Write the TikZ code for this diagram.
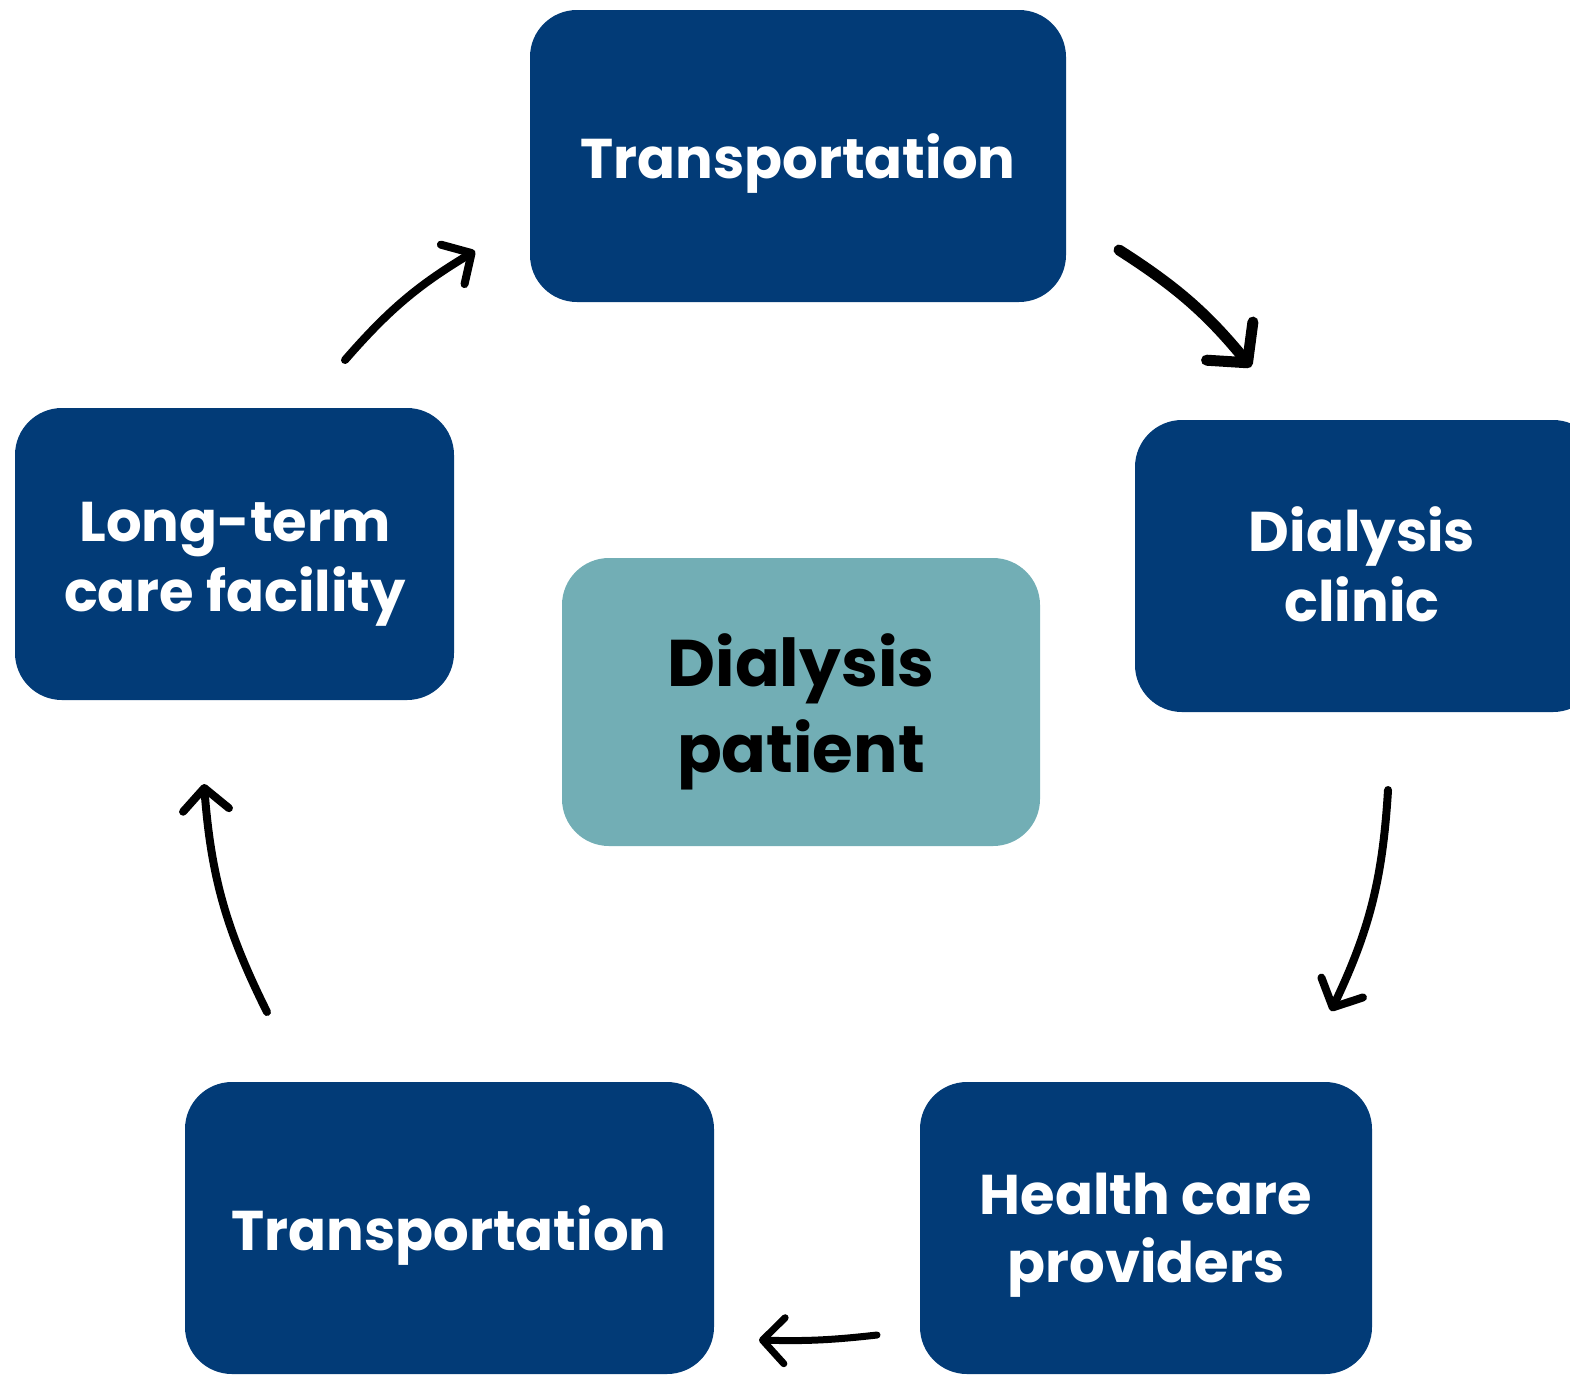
\documentclass[tikz,border=0pt]{standalone}
\usepackage{fontspec}
\setmainfont{Poppins}
\usetikzlibrary{arrows.meta}
\definecolor{navy}{HTML}{023B77}
\definecolor{teal2}{HTML}{72AEB5}
\tikzset{
  box/.style={fill=navy, draw=none, rounded corners=47pt},
  cbox/.style={fill=teal2, draw=none, rounded corners=47pt},
  wtxt/.style={text=white, anchor=base, inner sep=0pt, font=\fontsize{56}{56}\selectfont\bfseries},
  btxt/.style={text=black, anchor=base, inner sep=0pt, font=\fontsize{66}{66}\selectfont\bfseries},
  arr/.style={line width=8pt, line cap=round, -{Straight Barb[length=22pt,width=46pt,line cap=round,line join=round]}},
}
\begin{document}
\begin{tikzpicture}[x=1pt,y=-1pt]
\useasboundingbox (0,0) rectangle (1570,1374);
\clip (0,0) rectangle (1570,1374);
% boxes
\fill[box] (530,10) rectangle (1066,302);
\fill[box] (1135,420) rectangle (1600,712);
\fill[box] (15,408) rectangle (454,700);
\fill[cbox] (562,558) rectangle (1040,846);
\fill[box] (185,1082) rectangle (714,1374);
\fill[box] (920,1082) rectangle (1372,1374);
% texts
\node[wtxt] (t1) at (798,178) {Transportation};
\node[wtxt] (c1) at (1362,551) {Dialysis};
\node[wtxt] (c2) at (1362,621) {clinic};
\node[wtxt] (l1) at (235,541) {Long-term};
\node[wtxt] (l2) at (235,611) {care facility};
\node[btxt] (p1) at (801,686) {Dialysis};
\node[btxt] (p2) at (801,772) {patient};
\node[wtxt] (b1) at (449,1250) {Transportation};
\node[wtxt] (h1) at (1146,1214) {Health care};
\node[wtxt] (h2) at (1146,1282) {providers};
% arrow end points
\coordinate (a1s) at (345,360); \coordinate (a1e) at (475,251);
\coordinate (a2s) at (1119,250); \coordinate (a2e) at (1251,367);
\coordinate (a3s) at (1388,790); \coordinate (a3e) at (1331,1011);
\coordinate (a4s) at (877,1335); \coordinate (a4e) at (759,1340);
\coordinate (a5s) at (267,1012); \coordinate (a5e) at (204,784);
\draw[arr] (a1s) to[bend left=9] (a1e);
\draw[arr, line width=11pt, -{Straight Barb[length=28pt,width=60pt,line cap=round,line join=round]}] (a2s) to[bend left=9] (a2e);
\draw[arr] (a3s) to[bend left=11] (a3e);
\draw[arr, line width=7pt] (a4s) to[bend left=4] (a4e);
\draw[arr] (a5s) to[bend left=11] (a5e);
\end{tikzpicture}
\end{document}
